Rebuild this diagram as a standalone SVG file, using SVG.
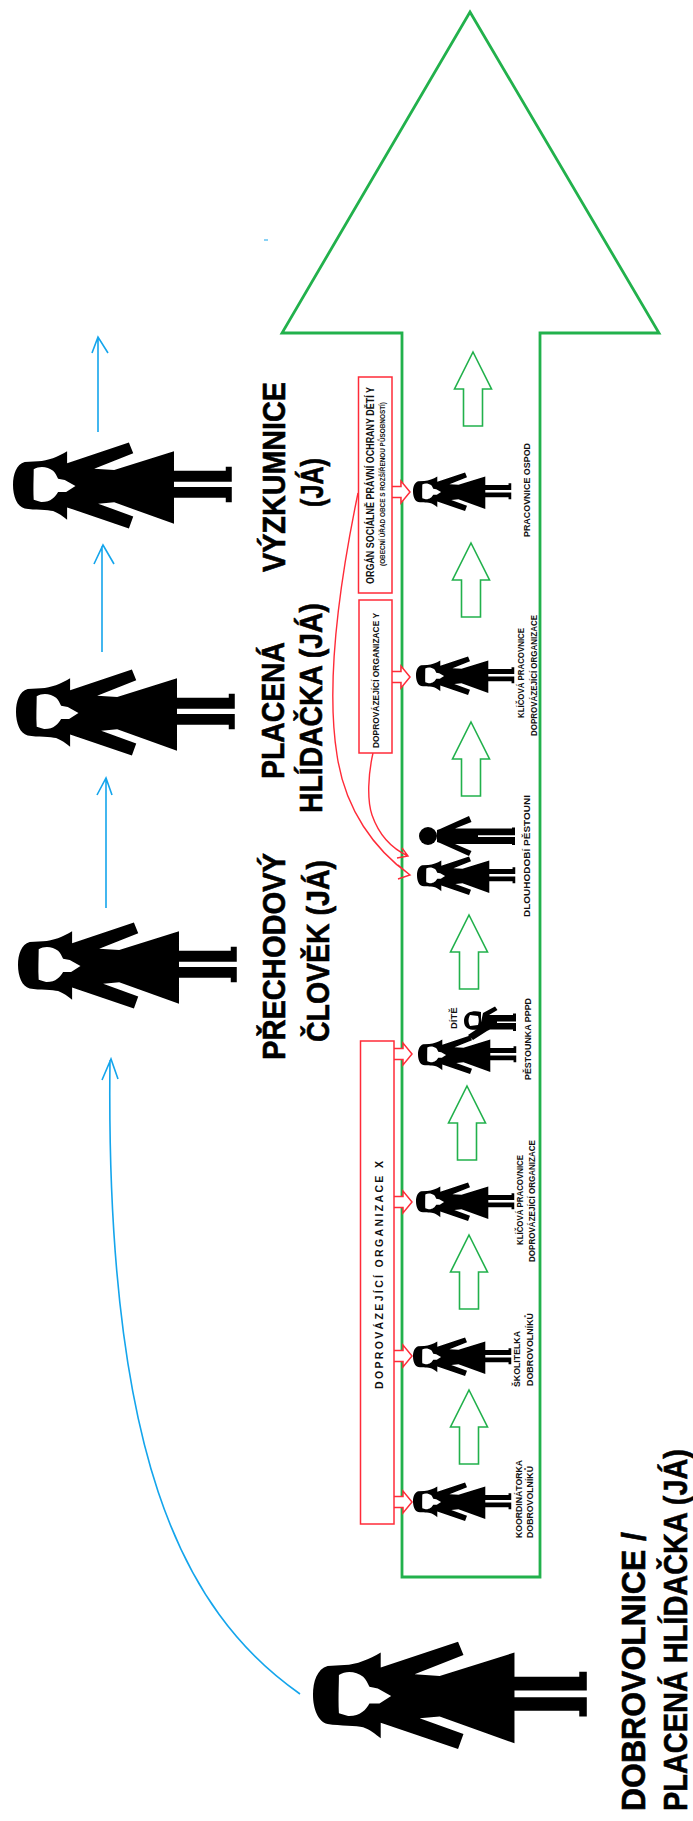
<svg xmlns="http://www.w3.org/2000/svg" xmlns:xlink="http://www.w3.org/1999/xlink" width="693" height="1821" viewBox="0 0 693 1821">
<style>
text{font-family:"Liberation Sans",Arial,sans-serif;font-weight:bold;fill:#111}
.big{font-size:31px;fill:#000;stroke:#000;stroke-width:.6}
.big2{font-size:34px;fill:#000;stroke:#000;stroke-width:.6}
.lab{font-size:9.5px}
.box{fill:#fff;stroke:#ff2b38;stroke-width:1.5}
.ga{fill:#fff;stroke:#22b14c;stroke-width:1.6}
.ra{fill:#fff;stroke:#ff2b38;stroke-width:1.5}
.rc{fill:none;stroke:#ff2b38;stroke-width:1.4}
.bl{fill:none;stroke:#14a5ec;stroke-width:1.6}
</style>
<defs>
<path id="woman" fill-rule="evenodd" fill="#000" d="M162,-104 C135,-88 105,-75 75,-74 L35,-72 C10,-65 0,-35 0,-3 C0,30 12,62 35,67 C65,72 105,70 120,75 C135,80 150,92 162,101 L162,64 L347,127 L360,91 L255,53 L303,49 L482,113 L482,35 L637,35 L637,49 L655,49 L655,3 L482,3 L482,-13 L655,-13 L655,-58 L637,-58 L637,-46 L482,-46 L482,-104 L303,-48 L243,-52 L360,-98 L347,-130 L162,-68 Z M62,-50 C80,-62 104,-58 120,-46 C127,-40 131,-30 135,-22 L155,-18 L187,0 L159,18 L135,18 C127,33 112,49 84,48 L62,41 C60,10 62,-22 62,-50 Z"/>
<path id="rarrow" d="M0,-5.5 L9,-5.5 L9,-11 L18,0 L9,11 L9,5.5 L0,5.5"/>
<path id="garrow" d="M0,0 L18.5,37 L9.5,37 L9.5,74 L-9.5,74 L-9.5,37 L-18.5,37 Z"/>
</defs>

<g id="big-arrow"><path d="M470,12 L659,333 L540,333 L540,1577 L402,1577 L402,333 L282,333 Z" fill="none" stroke="#22b14c" stroke-width="2.8"/></g>
<g id="mark"><path d="M264,240 L268,240" stroke="#14a5ec" stroke-width="1"/></g>

<g id="connectors">
<use xlink:href="#garrow" href="#garrow" class="ga" x="473" y="352"/>
<use xlink:href="#garrow" href="#garrow" class="ga" x="471" y="543"/>
<use xlink:href="#garrow" href="#garrow" class="ga" x="471" y="722"/>
<use xlink:href="#garrow" href="#garrow" class="ga" x="469" y="915"/>
<use xlink:href="#garrow" href="#garrow" class="ga" x="467" y="1086"/>
<use xlink:href="#garrow" href="#garrow" class="ga" x="469" y="1235"/>
<use xlink:href="#garrow" href="#garrow" class="ga" x="469" y="1390"/>

<use xlink:href="#rarrow" href="#rarrow" class="ra" x="392" y="492"/>
<use xlink:href="#rarrow" href="#rarrow" class="ra" x="392" y="677"/>
<use xlink:href="#rarrow" href="#rarrow" class="ra" x="394" y="1054"/>
<use xlink:href="#rarrow" href="#rarrow" class="ra" x="394" y="1202"/>
<use xlink:href="#rarrow" href="#rarrow" class="ra" x="394" y="1356"/>
<use xlink:href="#rarrow" href="#rarrow" class="ra" x="394" y="1502"/>

<path class="rc" d="M358,493 C340,580 325,680 337,755 C345,810 375,850 410,875 M398,865 L410,875 L398,879"/>
<path class="rc" d="M373,753 C368,775 367,800 372,815 C380,838 395,850 408,856 M402,848 L408,856 L397,858"/>

<path class="bl" d="M98,432 L98,338 M92,353 L98,337 L108,353"/>
<path class="bl" d="M102,652 L102,546 M94,564 L103,545 L114,564"/>
<path class="bl" d="M106,908 L106,779 M97,795 L106,778 L112,795"/>
<path class="bl" d="M300,1694 C180,1610 105,1450 110,1060 M102,1080 L111,1059 L118,1079"/>
</g>

<g id="big-woman"><use xlink:href="#woman" href="#woman" transform="translate(313,1696) scale(.418)"/></g>
<g id="woman-1"><use xlink:href="#woman" href="#woman" transform="translate(13,486) scale(.334)"/></g>
<g id="woman-2"><use xlink:href="#woman" href="#woman" transform="translate(16,713) scale(.334)"/></g>
<g id="woman-3"><use xlink:href="#woman" href="#woman" transform="translate(18,966) scale(.334)"/></g>

<g id="p-ospod"><use xlink:href="#woman" href="#woman" transform="translate(413,492) scale(.15)"/></g>
<g id="p-klic-y"><use xlink:href="#woman" href="#woman" transform="translate(416,676) scale(.15)"/></g>
<g id="p-pestouni">
<use xlink:href="#woman" href="#woman" transform="translate(417,876) scale(.15)"/>
<circle cx="428" cy="836" r="9"/>
<path fill-rule="evenodd" d="M437,830 L440,829 L469,816 L471.5,822 L455,828.5 L512,828.5 L512,827.5 L515,827.5 L515,845 L512,845 L512,844 L455,844 L471.5,851 L469,856 L440,843 L437,842 Z M478,835.3 L515,835.3 L515,837 L478,837 Z"/>
</g>
<g id="p-pppd">
<use xlink:href="#woman" href="#woman" transform="translate(418,1055) scale(.15)"/>
<path fill-rule="evenodd" d="M483,1013 L495,1006.5 L497.5,1010 L489,1015 L513,1015 L513,1013.5 L516,1013.5 L516,1031 L513,1031 L513,1029.5 L490,1029.5 L487,1031 L473,1040 L468,1035 L480,1027 Z M497,1021.5 L516,1021.5 L516,1023 L497,1023 Z"/>
<path fill-rule="evenodd" d="M481,1012 C473,1010 464,1012 464,1021 C464,1030 473,1031 481,1029 Z M470,1015 L478,1016 C479,1019 479,1022 478,1025 L470,1026 C468,1022 468,1019 470,1015 Z"/>
</g>
<g id="p-klic-x"><use xlink:href="#woman" href="#woman" transform="translate(416,1202) scale(.15)"/></g>
<g id="p-skol"><use xlink:href="#woman" href="#woman" transform="translate(413,1357) scale(.15)"/></g>
<g id="p-koord"><use xlink:href="#woman" href="#woman" transform="translate(413,1502) scale(.15)"/></g>

<g id="org-ospod"><rect class="box" x="358.5" y="377" width="33.5" height="216"/>
<text transform="translate(374,584) rotate(-90)" font-size="10.5" textLength="197" lengthAdjust="spacingAndGlyphs">ORGÁN SOCIÁLNĚ PRÁVNÍ OCHRANY DĚTÍ Y</text>
<text transform="translate(385,566) rotate(-90)" font-size="7" textLength="164" lengthAdjust="spacingAndGlyphs">(OBECNÍ ÚŘAD OBCE S ROZŠÍŘENOU PŮSOBNOSTÍ)</text></g>
<g id="org-y"><rect class="box" x="359" y="600" width="33" height="153"/>
<text transform="translate(379,748) rotate(-90)" font-size="9.5" textLength="135" lengthAdjust="spacingAndGlyphs">DOPROVÁZEJÍCÍ ORGANIZACE Y</text></g>
<g id="org-x"><rect class="box" x="360.5" y="1041" width="33.5" height="483"/>
<text transform="translate(383,1389) rotate(-90)" font-size="10.5" textLength="228" lengthAdjust="spacing">DOPROVÁZEJÍCÍ ORGANIZACE X</text></g>

<g id="labels">
<text class="lab" transform="translate(530,537) rotate(-90)" textLength="94" lengthAdjust="spacingAndGlyphs">PRACOVNICE OSPOD</text>
<text class="lab" transform="translate(524,718) rotate(-90)" textLength="90" lengthAdjust="spacingAndGlyphs">KLÍČOVÁ PRACOVNICE</text>
<text class="lab" transform="translate(537,736) rotate(-90)" textLength="121" lengthAdjust="spacingAndGlyphs">DOPROVÁZEJÍCÍ ORGANIZACE</text>
<text class="lab" transform="translate(530,917) rotate(-90)" textLength="122" lengthAdjust="spacingAndGlyphs">DLOUHODOBÍ PĚSTOUNI</text>
<text class="lab" transform="translate(531,1080) rotate(-90)" textLength="82" lengthAdjust="spacingAndGlyphs">PĚSTOUNKA PPPD</text>
<text class="lab" transform="translate(457,1029) rotate(-90)">DÍTĚ</text>
<text class="lab" transform="translate(523,1245) rotate(-90)" textLength="90" lengthAdjust="spacingAndGlyphs">KLÍČOVÁ PRACOVNICE</text>
<text class="lab" transform="translate(535,1262) rotate(-90)" textLength="122" lengthAdjust="spacingAndGlyphs">DOPROVÁZEJÍCÍ ORGANIZACE</text>
<text class="lab" transform="translate(520,1387) rotate(-90)" textLength="56" lengthAdjust="spacingAndGlyphs">ŠKOLITELKA</text>
<text class="lab" transform="translate(533,1386) rotate(-90)" textLength="73" lengthAdjust="spacingAndGlyphs">DOBROVOLNÍKŮ</text>
<text class="lab" transform="translate(522,1538) rotate(-90)" textLength="78" lengthAdjust="spacingAndGlyphs">KOORDINÁTORKA</text>
<text class="lab" transform="translate(533,1538) rotate(-90)" textLength="72" lengthAdjust="spacingAndGlyphs">DOBROVOLNÍKŮ</text>
</g>
<g id="titles">
<text class="big" transform="translate(285,572) rotate(-90)" textLength="190" lengthAdjust="spacingAndGlyphs">VÝZKUMNICE</text>
<text class="big" transform="translate(323,507) rotate(-90)" textLength="49" lengthAdjust="spacingAndGlyphs">(JÁ)</text>
<text class="big" transform="translate(284,779) rotate(-90)" textLength="137" lengthAdjust="spacingAndGlyphs">PLACENÁ</text>
<text class="big" transform="translate(322,813) rotate(-90)" textLength="210" lengthAdjust="spacingAndGlyphs">HLÍDAČKA (JÁ)</text>
<text class="big" transform="translate(285,1060) rotate(-90)" textLength="207" lengthAdjust="spacingAndGlyphs">PŘECHODOVÝ</text>
<text class="big" transform="translate(329,1042) rotate(-90)" textLength="182" lengthAdjust="spacingAndGlyphs">ČLOVĚK (JÁ)</text>
<text class="big2" transform="translate(645,1811) rotate(-90)" textLength="279" lengthAdjust="spacingAndGlyphs">DOBROVOLNICE /</text>
<text class="big2" transform="translate(687,1811) rotate(-90)" textLength="362" lengthAdjust="spacingAndGlyphs">PLACENÁ HLÍDAČKA (JÁ)</text>
</g>
</svg>
